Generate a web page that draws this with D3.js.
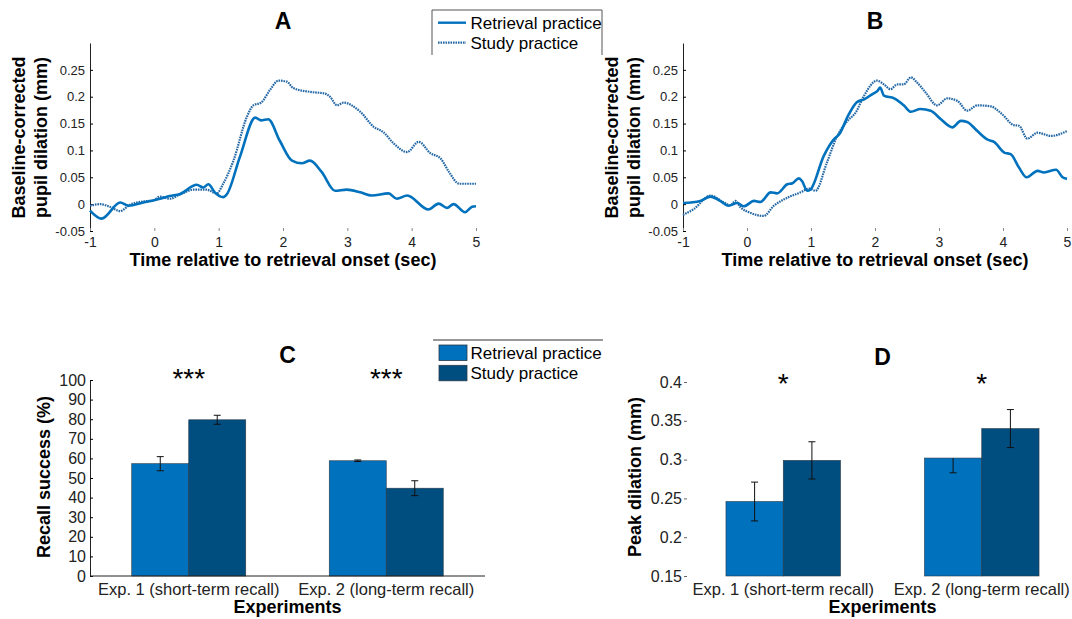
<!DOCTYPE html>
<html>
<head>
<meta charset="utf-8">
<script src="https://cdn.jsdelivr.net/npm/d3@7"></script>
<style>
  body { margin: 0; background: #fff; }
  svg { font-family: "Liberation Sans", Arial, sans-serif; }
</style>
</head>
<body>
<div id="chart"></div>
<script>
/* Data */
const series = ["Retrieval practice", "Study practice"];
const experiments = ["Exp. 1 (short-term recall)", "Exp. 2 (long-term recall)"];

// panel A: [time (sec), dilation (mm)]
const aRetrieval = [[-1,-0.012],[-0.82,-0.027],[-0.53,0.003],[-0.40,-0.003],[-0.17,0.003],[0.09,0.010],[0.24,0.015],[0.40,0.019],[0.66,0.036],[0.76,0.031],[0.84,0.037],[0.94,0.022],[1.07,0.013],[1.13,0.019],[1.33,0.088],[1.57,0.161],[1.66,0.156],[1.77,0.158],[1.95,0.118],[2.14,0.081],[2.29,0.076],[2.42,0.081],[2.60,0.060],[2.81,0.025],[2.99,0.027],[3.20,0.022],[3.38,0.016],[3.64,0.020],[3.77,0.010],[3.93,0.016],[4.26,-0.010],[4.42,0.001],[4.55,-0.007],[4.65,0.000],[4.83,-0.015],[4.94,-0.005],[5.0,-0.004]];
const aStudy = [[-1,-0.003],[-0.84,0.0],[-0.69,-0.005],[-0.53,-0.013],[-0.38,-0.001],[-0.17,0.005],[-0.02,0.007],[0.09,0.014],[0.24,0.010],[0.40,0.018],[0.61,0.027],[0.81,0.027],[0.97,0.020],[1.07,0.038],[1.23,0.081],[1.44,0.163],[1.54,0.184],[1.66,0.189],[1.80,0.213],[1.93,0.230],[2.06,0.228],[2.16,0.216],[2.42,0.209],[2.65,0.206],[2.73,0.200],[2.84,0.184],[2.94,0.189],[3.20,0.172],[3.41,0.144],[3.56,0.134],[3.72,0.113],[3.93,0.097],[4.11,0.116],[4.29,0.095],[4.45,0.085],[4.58,0.060],[4.74,0.038],[5.0,0.038]];

// panel B
const bRetrieval = [[-1,0.002],[-0.73,0.006],[-0.57,0.014],[-0.42,0.006],[-0.29,-0.003],[-0.15,0.002],[-0.05,-0.004],[0.11,0.006],[0.21,0.004],[0.37,0.022],[0.47,0.020],[0.63,0.037],[0.71,0.039],[0.81,0.048],[0.86,0.043],[0.94,0.025],[0.99,0.027],[1.20,0.090],[1.36,0.121],[1.44,0.130],[1.59,0.167],[1.72,0.190],[1.83,0.195],[1.96,0.205],[2.04,0.211],[2.08,0.217],[2.14,0.202],[2.30,0.197],[2.45,0.184],[2.56,0.172],[2.71,0.177],[2.87,0.174],[3.03,0.158],[3.21,0.143],[3.34,0.155],[3.44,0.153],[3.60,0.136],[3.76,0.120],[3.86,0.116],[4.02,0.096],[4.12,0.093],[4.25,0.068],[4.37,0.050],[4.54,0.062],[4.64,0.059],[4.83,0.064],[4.93,0.050],[5.0,0.047]];
const bStudy = [[-1,-0.020],[-0.83,-0.009],[-0.57,0.016],[-0.36,0.003],[-0.26,-0.002],[-0.18,0.006],[-0.10,-0.006],[0.05,-0.016],[0.26,-0.022],[0.42,-0.003],[0.63,0.012],[0.84,0.022],[0.97,0.029],[1.07,0.025],[1.25,0.078],[1.41,0.127],[1.57,0.155],[1.70,0.171],[1.83,0.202],[2.03,0.230],[2.14,0.223],[2.24,0.214],[2.35,0.223],[2.45,0.223],[2.56,0.236],[2.66,0.226],[2.79,0.208],[2.97,0.184],[3.13,0.197],[3.29,0.192],[3.44,0.174],[3.60,0.184],[3.81,0.182],[3.99,0.167],[4.17,0.147],[4.25,0.146],[4.38,0.122],[4.54,0.133],[4.75,0.127],[5.0,0.136]];

const timeTicks = [-1, 0, 1, 2, 3, 4, 5];
const dilationTicks = [-0.05, 0, 0.05, 0.1, 0.15, 0.2, 0.25];

// panel C: recall success (%)
const recallRetrieval = [57.3, 58.8];
const recallStudy = [79.7, 44.8];
const recallErrRetrieval = [3.6, 0.4];
const recallErrStudy = [2.3, 3.8];
const recallStars = ["***", "***"];
const recallTicks = [0, 10, 20, 30, 40, 50, 60, 70, 80, 90, 100];

// panel D: peak dilation (mm)
const peakRetrieval = [0.246, 0.302];
const peakStudy = [0.299, 0.340];
const peakErrRetrievalUp = [0.025, 0];
const peakErrRetrievalDown = [0.025, 0.019];
const peakErrStudy = [0.024, 0.0245];
const peakStars = ["*", "*"];
const peakTicks = [0.15, 0.2, 0.25, 0.3, 0.35, 0.4];

const lightBlue = "#0071bd", darkBlue = "#004d80";
const lineBlue = "#0072bd", dotBlue = "#2468a6";
const fmt = d => String(+d.toFixed(2));

const svg = d3.select("#chart").append("svg")
  .attr("width", 1072)
  .attr("height", 619);

/* Line panels */
function drawLinePanel(opt) {
  const x = d3.scaleLinear().domain([-1, 5]).range([opt.x0, opt.x1]);
  const y = d3.scaleLinear().domain([-0.05, 0.3]).range([231, 43]);
  const g = svg.append("g");

  const yAxis = g.append("g")
    .attr("transform", `translate(${opt.x0},0)`)
    .call(d3.axisLeft(y).tickValues(dilationTicks).tickFormat(fmt).tickSizeInner(-3).tickSizeOuter(0).tickPadding(5));
  yAxis.select(".domain").attr("stroke", "#222");
  yAxis.selectAll("text").attr("font-size", "13px").attr("fill", "#222");

  const xAxis = g.append("g")
    .attr("transform", `translate(0,231)`)
    .call(d3.axisBottom(x).tickValues(timeTicks).tickFormat(d => String(d)).tickSizeInner(-3).tickSizeOuter(0).tickPadding(6));
  xAxis.select(".domain").remove();
  xAxis.selectAll("line").attr("stroke", "#888");
  xAxis.selectAll("text").attr("font-size", "14px").attr("fill", "#222");

  const line = d3.line()
    .x(d => x(d[0]))
    .y(d => y(d[1]))
    .curve(d3.curveMonotoneX);

  g.append("path")
    .datum(opt.study)
    .attr("fill", "none")
    .attr("stroke", dotBlue)
    .attr("stroke-width", 2.2)
    .attr("stroke-dasharray", "1.6,0.9")
    .attr("d", line);

  g.append("path")
    .datum(opt.retrieval)
    .attr("fill", "none")
    .attr("stroke", lineBlue)
    .attr("stroke-width", 2.6)
    .attr("d", line);

  const cx = (opt.x0 + opt.x1) / 2;
  g.append("text")
    .attr("x", cx).attr("y", 29)
    .attr("text-anchor", "middle")
    .attr("font-weight", "bold").attr("font-size", "23px")
    .text(opt.title);

  g.append("text")
    .attr("x", cx).attr("y", 266)
    .attr("text-anchor", "middle")
    .attr("font-weight", "bold").attr("font-size", "18px")
    .text("Time relative to retrieval onset (sec)");

  ["Baseline-corrected", "pupil dilation (mm)"].forEach((t, i) => {
    g.append("text")
      .attr("transform", `translate(${opt.x0 - 65 + i * 21.6},137.5) rotate(-90)`)
      .attr("text-anchor", "middle")
      .attr("font-weight", "bold").attr("font-size", "18px")
      .text(t);
  });
}

drawLinePanel({ title: "A", x0: 90, x1: 476, retrieval: aRetrieval, study: aStudy });
drawLinePanel({ title: "B", x0: 683, x1: 1067, retrieval: bRetrieval, study: bStudy });

/* Legend A */
const legA = svg.append("g");
legA.append("path")
  .attr("d", "M432,55V10H602V55")
  .attr("fill", "none")
  .attr("stroke", "#555");
series.forEach((s, i) => {
  const ly = 22.7 + i * 20;
  legA.append("line")
    .attr("x1", 438).attr("x2", 466).attr("y1", ly).attr("y2", ly)
    .attr("stroke", i === 0 ? lineBlue : dotBlue)
    .attr("stroke-width", i === 0 ? 2.4 : 2.2)
    .attr("stroke-dasharray", i === 0 ? null : "1.6,0.9");
  legA.append("text")
    .attr("x", 470.5).attr("y", ly + 6)
    .attr("font-size", "17px")
    .text(s);
});

/* Bar panels */
function drawBarPanel(opt) {
  const x = d3.scaleBand().domain(experiments).range([opt.x0, opt.x1])
    .paddingInner(0.4228).paddingOuter(0.2114);
  const sub = d3.scaleBand().domain(series).range([0, x.bandwidth()]);
  const y = d3.scaleLinear().domain(opt.domain).range([576, opt.yTop]);
  const g = svg.append("g");

  const yAxis = g.append("g")
    .attr("transform", `translate(${opt.x0},0)`)
    .call(d3.axisLeft(y).tickValues(opt.ticks).tickFormat(fmt).tickSizeInner(-3).tickSizeOuter(0).tickPadding(opt.yPad));
  yAxis.selectAll("text").attr("font-size", "16px").attr("fill", "#222");
  if (opt.axisLines) {
    yAxis.select(".domain").attr("stroke", "#222");
  } else {
    yAxis.select(".domain").remove();
    yAxis.selectAll("line").attr("stroke", "#666");
  }

  const rows = experiments.map((e, i) => ({
    e,
    vals: [
      { s: series[0], v: opt.retrieval[i], up: opt.errRUp[i], down: opt.errRDown[i], c: lightBlue },
      { s: series[1], v: opt.study[i], up: opt.errS[i], down: opt.errS[i], c: darkBlue }
    ],
    star: opt.stars[i]
  }));

  const grp = g.selectAll(".grp").data(rows).enter().append("g")
    .attr("transform", d => `translate(${x(d.e)},0)`);

  grp.selectAll("rect").data(d => d.vals).enter().append("rect")
    .attr("x", d => sub(d.s))
    .attr("width", sub.bandwidth())
    .attr("y", d => y(d.v))
    .attr("height", d => 576 - y(d.v))
    .attr("fill", d => d.c)
    .attr("stroke", "#2b3a48")
    .attr("stroke-width", 0.6);

  const eb = grp.selectAll(".err").data(d => d.vals).enter().append("g")
    .attr("stroke", "#111").attr("stroke-width", 1);
  const mid = d => sub(d.s) + sub.bandwidth() / 2;
  eb.append("line")
    .attr("x1", mid).attr("x2", mid)
    .attr("y1", d => y(d.v + d.up)).attr("y2", d => y(d.v - d.down));
  eb.filter(d => d.up > 0).append("line")
    .attr("x1", d => mid(d) - 3.5).attr("x2", d => mid(d) + 3.5)
    .attr("y1", d => y(d.v + d.up)).attr("y2", d => y(d.v + d.up));
  eb.filter(d => d.down > 0).append("line")
    .attr("x1", d => mid(d) - 3.5).attr("x2", d => mid(d) + 3.5)
    .attr("y1", d => y(d.v - d.down)).attr("y2", d => y(d.v - d.down));

  grp.append("text")
    .attr("x", x.bandwidth() / 2)
    .attr("y", opt.starY)
    .attr("text-anchor", "middle")
    .attr("font-size", "28px")
    .text(d => d.star);

  if (opt.axisLines) {
    g.append("line")
      .attr("x1", opt.x0).attr("x2", opt.x1).attr("y1", 576).attr("y2", 576)
      .attr("stroke", "#222");
  }

  g.selectAll(".xl").data(experiments).enter().append("text")
    .attr("x", d => x(d) + x.bandwidth() / 2)
    .attr("y", 595)
    .attr("text-anchor", "middle")
    .attr("font-size", "16.5px")
    .attr("fill", "#222")
    .text(d => d);

  const cx = (opt.x0 + opt.x1) / 2;
  g.append("text")
    .attr("x", cx).attr("y", 613)
    .attr("text-anchor", "middle")
    .attr("font-weight", "bold").attr("font-size", "18px")
    .text("Experiments");

  g.append("text")
    .attr("x", cx).attr("y", opt.titleY)
    .attr("text-anchor", "middle")
    .attr("font-weight", "bold").attr("font-size", "23px")
    .text(opt.title);

  g.append("text")
    .attr("transform", `translate(${opt.labelX},477) rotate(-90)`)
    .attr("text-anchor", "middle")
    .attr("font-weight", "bold").attr("font-size", "18px")
    .text(opt.label);
}

drawBarPanel({
  title: "C", titleY: 363, x0: 90, x1: 485, domain: [0, 100], yTop: 380, ticks: recallTicks, yPad: 4,
  retrieval: recallRetrieval, study: recallStudy,
  errRUp: recallErrRetrieval, errRDown: recallErrRetrieval, errS: recallErrStudy,
  stars: recallStars, starY: 388, axisLines: true, label: "Recall success (%)", labelX: 50
});

drawBarPanel({
  title: "D", titleY: 365, x0: 684, x1: 1081, domain: [0.15, 0.4], yTop: 382, ticks: peakTicks, yPad: 2,
  retrieval: peakRetrieval, study: peakStudy,
  errRUp: peakErrRetrievalUp, errRDown: peakErrRetrievalDown, errS: peakErrStudy,
  stars: peakStars, starY: 393, axisLines: false, label: "Peak dilation (mm)", labelX: 641
});

/* Legend C */
const legC = svg.append("g");
legC.append("line")
  .attr("x1", 433).attr("x2", 603).attr("y1", 340).attr("y2", 340)
  .attr("stroke", "#333");
series.forEach((s, i) => {
  const ly = 345 + i * 20.3;
  legC.append("rect")
    .attr("x", 439).attr("y", ly).attr("width", 28).attr("height", 15.5)
    .attr("fill", i === 0 ? lightBlue : darkBlue)
    .attr("stroke", "#2b3a48").attr("stroke-width", 0.8);
  legC.append("text")
    .attr("x", 470.5).attr("y", ly + 13.5)
    .attr("font-size", "17px")
    .text(s);
});
</script>
</body>
</html>
